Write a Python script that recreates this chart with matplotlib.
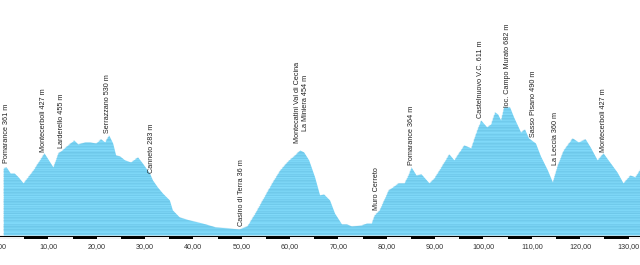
import matplotlib
matplotlib.use("Agg")
import matplotlib.pyplot as plt
from matplotlib.patches import Rectangle
import numpy as np

plt.rcParams['font.family'] = ['Liberation Sans', 'DejaVu Sans']

# distance (km) and elevation (m) of the profile
distance_km = [0.68, 1.30, 2.12, 2.94, 3.77, 4.79, 6.85, 9.12, 10.97, 12.00, 12.82, 14.05,
               15.29, 16.11, 17.55, 18.58, 19.81, 20.84, 21.67, 22.49, 23.31, 23.93, 24.75,
               25.78, 27.02, 28.46, 29.28, 30.93, 31.54, 32.57, 33.60, 35.04, 35.66, 37.10,
               39.16, 41.83, 44.51, 47.39, 49.44, 51.09, 52.74, 54.59, 56.23, 57.88, 59.73,
               60.97, 62.00, 62.82, 63.85, 65.08, 66.11, 66.94, 68.17, 69.20, 70.64, 71.67,
               72.70, 74.75, 75.78, 76.81, 77.43, 78.46, 80.31, 82.37, 83.60, 84.42, 85.04,
               86.07, 87.10, 88.74, 89.77, 91.21, 92.85, 93.89, 95.95, 97.39, 98.42, 99.44,
               100.68, 101.50, 102.33, 102.94, 103.56, 104.18, 105.41, 106.24, 107.68, 108.50,
               109.32, 110.76, 111.79, 113.23, 114.26, 115.29, 116.52, 118.37, 119.61, 121.05,
               122.08, 123.52, 124.75, 125.78, 127.63, 128.87, 130.31, 131.34, 132.37]
elevation_m = [358, 363, 331, 331, 310, 278, 347, 438, 363, 438, 454, 481,
               507, 486, 497, 497, 491, 513, 497, 534, 491, 427, 422,
               401, 390, 417, 390, 331, 294, 256, 224, 187, 134, 96,
               80, 64, 43, 37, 32, 48, 117, 203, 278, 347, 401,
               427, 454, 443, 401, 310, 214, 219, 187, 117, 59, 59,
               48, 53, 64, 64, 107, 134, 240, 278, 278, 320, 363,
               320, 326, 278, 304, 363, 433, 401, 481, 465, 545, 614,
               577, 593, 657, 646, 614, 684, 684, 630, 550, 566,
               518, 491, 422, 347, 283, 374, 454, 518, 497, 513,
               470, 401, 438, 401, 336, 278, 320, 310, 352]

tick_km = [0, 10, 20, 30, 40, 50, 60, 70, 80, 90, 100, 110, 120, 130]
tick_labels = ["0,00", "10,00", "20,00", "30,00", "40,00", "50,00", "60,00", "70,00",
               "80,00", "90,00", "100,00", "110,00", "120,00", "130,00"]

place_names = ["Pomarance 361 m", "Montecerboli 427 m", "Larderello 455 m", "Serrazzano 530 m",
               "Canneto 283 m", "Casino di Terra 36 m",
               "Montecatini Val di Cecina\nLa Miniera 454 m", "Muro Cerreto",
               "Pomarance 364 m", "Castelnuovo V.C. 611 m", "loc. Campo Murato 682 m",
               "Sasso Pisano 490 m", "La Leccia 360 m", "Montecerboli 427 m"]
place_km = [1.30, 8.91, 12.82, 22.28, 31.34, 49.86, 62.4, 77.84, 85.04, 99.44, 105.0,
            110.35, 114.88, 124.75]
place_label_m = [384, 443, 465, 545, 331, 48, 491, 134, 374, 625, 684, 523, 374, 443]

fig = plt.figure(figsize=(6.4, 2.65), dpi=100)
ax = fig.add_axes([0, 26 / 265, 1, 239 / 265])
ax.set_xlim(0.68, 132.37)
ax.set_ylim(-21.4, 1255)

fill_color = '#80D9F9'
poly = ax.fill_between(distance_km, 0, elevation_m, color=fill_color, lw=0, zorder=1)
clip_path = poly.get_paths()[0]

# horizontal streak texture inside the profile
levels = np.arange(1, 700, 6.0)
for i, lv in enumerate(levels):
    a = 0.06 + 0.40 * (((i * 37) % 11) / 10.0)
    ln, = ax.plot([0, 135], [lv, lv], color='#4AA6CC', lw=0.5, alpha=a, zorder=2)
    ln.set_clip_path(clip_path, ax.transData)

# distance scale bar (alternating 5 km segments)
for k in range(0, 135, 5):
    col = 'black' if (k // 5) % 2 == 1 else 'white'
    ax.add_patch(Rectangle((k, -19), 5, 12, facecolor=col, edgecolor='none', zorder=3,
                           clip_on=False))
ax.plot([0, 135], [-5.5, -5.5], color='black', lw=0.8, zorder=4)
ax.plot([0, 135], [-20.5, -20.5], color='black', lw=0.8, zorder=4)

for name, km, m in zip(place_names, place_km, place_label_m):
    ax.text(km, m, name, rotation=90, ha='center', va='bottom', fontsize=5.2,
            color='#222222', zorder=5, linespacing=1.15)

ax.set_xticks(tick_km)
ax.set_xticklabels(tick_labels, fontsize=5.2, color='#333333')
ax.tick_params(axis='x', length=0, pad=3)
ax.set_yticks([])
for s in ax.spines.values():
    s.set_visible(False)

fig.savefig('out.png', dpi=100)
